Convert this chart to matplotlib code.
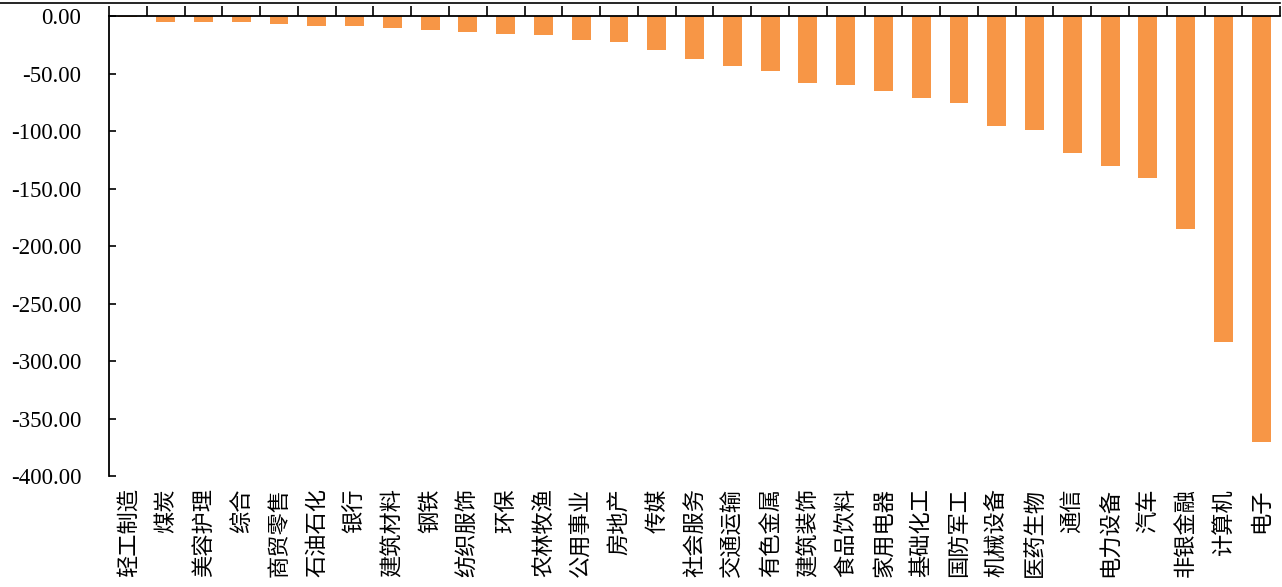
import matplotlib
matplotlib.use("Agg")
import matplotlib.pyplot as plt
from matplotlib.ticker import FuncFormatter, FixedLocator
from matplotlib.lines import Line2D
import numpy as np

# industries, sorted by change (largest outflow on the right)
industries = ["轻工制造", "煤炭", "美容护理", "综合", "商贸零售", "石油石化", "银行",
              "建筑材料", "钢铁", "纺织服饰", "环保", "农林牧渔", "公用事业", "房地产",
              "传媒", "社会服务", "交通运输", "有色金属", "建筑装饰", "食品饮料",
              "家用电器", "基础化工", "国防军工", "机械设备", "医药生物", "通信",
              "电力设备", "汽车", "非银金融", "计算机", "电子"]
values = [-0.1, -4.5, -4.5, -4.8, -6.8, -8.0, -8.5,
          -10.3, -11.6, -13.5, -15.0, -15.8, -20.4, -22.2,
          -29.4, -37.0, -42.8, -47.4, -57.6, -60.0,
          -64.8, -71.1, -75.5, -95.2, -99.0, -118.4,
          -130.3, -140.2, -184.8, -283.3, -370.0]
y_ticks = [0, -50, -100, -150, -200, -250, -300, -350, -400]

fig = plt.figure(figsize=(12.82, 5.87), dpi=100)
ax = fig.add_axes([0.085, 0.1891, 0.9135, 0.7828])

x = np.arange(len(industries))
ax.bar(x, values, width=0.5, color="#F79646", linewidth=0)

ax.set_xlim(-0.5, len(industries) - 0.5)
ax.set_ylim(-400, 0)

for side in ["bottom", "right"]:
    ax.spines[side].set_visible(False)
for side in ["top", "left"]:
    ax.spines[side].set_linewidth(1.3)

# y axis
ax.set_yticks(y_ticks)
ax.yaxis.set_major_formatter(FuncFormatter(lambda v, p: f"{v:.2f}"))
ax.tick_params(axis="y", direction="in", length=5, width=1.2, pad=20)
for lab in ax.get_yticklabels():
    lab.set_fontfamily("Liberation Serif")
    lab.set_fontsize(16.5)

# x axis: labels below the plot, boundary ticks on the zero line
ax.set_xticks(x)
ax.set_xticklabels(industries, rotation=90, va="top", ha="center",
                   fontfamily=["Noto Sans CJK SC", "DejaVu Sans"], fontsize=16)
ax.tick_params(axis="x", which="major", length=0, pad=9, bottom=False, top=False)
ax.xaxis.set_minor_locator(FixedLocator(np.arange(len(industries) + 1) - 0.5))
ax.tick_params(axis="x", which="minor", bottom=False, top=True, direction="out",
               length=7, width=1.2)

# outer frame line at the top of the chart area
fig.add_artist(Line2D([0, 0.9985], [0.9955, 0.9955], transform=fig.transFigure,
                      color="black", linewidth=1.2))

fig.savefig("out.png", dpi=100)
